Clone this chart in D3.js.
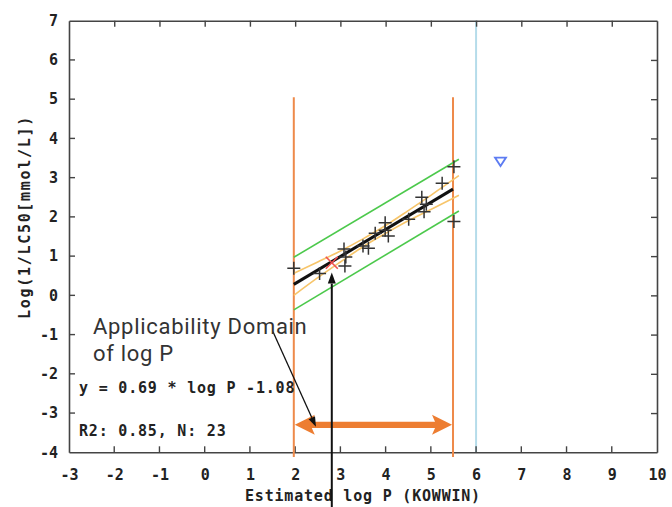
<!DOCTYPE html>
<html>
<head>
<meta charset="utf-8">
<script src="https://cdn.jsdelivr.net/npm/d3@7/dist/d3.min.js"></script>
<style>
  html, body { margin: 0; padding: 0; background: #fff; }
  svg { display: block; }
</style>
</head>
<body>
<svg id="chart" width="672" height="507"></svg>
<script>
// Axis ticks
const xTicks = d3.range(-3, 11);
const yTicks = d3.range(-4, 8);

// Training set: estimated log P (KOWWIN) vs log(1/LC50)
const trainLogP  = [1.97, 2.54, 3.08, 3.12, 3.10, 3.50, 3.62, 3.77, 3.99, 3.99, 4.06, 4.51, 4.80, 4.85, 4.90, 5.25, 5.51, 5.51];
const trainValue = [0.69, 0.56, 1.18, 0.98, 0.75, 1.26, 1.20, 1.58, 1.85, 1.66, 1.51, 1.94, 2.50, 2.13, 2.32, 2.86, 3.28, 1.88];

// Target chemical (red cross) and the out-of-domain chemical (triangle)
const targetLogP = [2.81];
const targetValue = [0.83];
const outsideLogP = [6.54];
const outsideValue = [3.41];

// Regression: y = 0.69 * log P - 1.08
const slope = 0.69;
const intercept = -1.08;
const fitRange = [1.97, 5.49];

// Prediction band (green) and confidence band (yellow)
const predX = [1.97, 5.62];
const predUpper = [0.97, 3.47];
const predLower = [-0.37, 2.15];
const confX = [1.97, 2.5, 3.0, 3.5, 4.0, 4.5, 5.0, 5.62];
const confUpper = [0.56, 0.85, 1.13, 1.44, 1.78, 2.16, 2.55, 3.05];
const confLower = [0.00, 0.45, 0.85, 1.24, 1.58, 1.90, 2.19, 2.55];

// Applicability domain of log P and model boundary
const domainLogP = [1.97, 5.49];
const domainSpan = [-4.12, 5.05];
const boundaryLogP = [6.0];
const domainArrowY = -3.3;

const equationText = "y = 0.69 * log P -1.08";
const statsText = "R2: 0.85, N: 23";

const svg = d3.select("#chart");
const x = d3.scaleLinear().domain([-3, 10]).range([69, 657]);
const y = d3.scaleLinear().domain([-4, 7]).range([452.3, 20.7]);

const mono = "'DejaVu Sans Mono', monospace";
const axisColor = "#444";
const fmt = d => String(d);

// Light-blue boundary line (drawn under the frame)
svg.append("g").selectAll("line").data(boundaryLogP).join("line")
  .attr("x1", d => x(d)).attr("x2", d => x(d))
  .attr("y1", y(7)).attr("y2", y(-4))
  .attr("stroke", "#b5dcea").attr("stroke-width", 2);

// Frame with inward ticks on all four sides
function styleAxis(g) {
  g.selectAll("path.domain").attr("stroke", axisColor).attr("stroke-width", 1.6);
  g.selectAll(".tick line").attr("stroke", axisColor).attr("stroke-width", 1.4);
  g.selectAll(".tick text").attr("fill", "#222").attr("font-family", mono)
    .attr("font-weight", "bold").attr("font-size", 15);
}
const innerTicksX = xTicks.filter(d => d > -3 && d < 10);
const innerTicksY = yTicks.filter(d => d > -4 && d < 7);

const gBottom = svg.append("g").attr("transform", `translate(0,${y(-4)})`)
  .call(d3.axisBottom(x).tickValues(xTicks).tickSizeInner(0).tickSizeOuter(0).tickPadding(17).tickFormat(fmt));
gBottom.selectAll(".tick line").remove();
gBottom.append("g").selectAll("line").data(innerTicksX).join("line")
  .attr("class", "tk").attr("x1", d => x(d)).attr("x2", d => x(d)).attr("y1", 0).attr("y2", -6);
styleAxis(gBottom);
gBottom.selectAll("line.tk").attr("stroke", axisColor).attr("stroke-width", 1.4);

const gLeft = svg.append("g").attr("transform", `translate(${x(-3)},0)`)
  .call(d3.axisLeft(y).tickValues(yTicks).tickSizeInner(0).tickSizeOuter(0).tickPadding(11).tickFormat(fmt));
gLeft.selectAll(".tick line").remove();
gLeft.append("g").selectAll("line").data(innerTicksY).join("line")
  .attr("class", "tk").attr("x1", 0).attr("x2", 6).attr("y1", d => y(d)).attr("y2", d => y(d));
styleAxis(gLeft);
gLeft.selectAll("line.tk").attr("stroke", axisColor).attr("stroke-width", 1.4);

const gTop = svg.append("g").attr("transform", `translate(0,${y(7)})`)
  .call(d3.axisTop(x).tickValues(innerTicksX).tickSizeInner(-6).tickSizeOuter(0).tickFormat(""));
styleAxis(gTop);

const gRight = svg.append("g").attr("transform", `translate(${x(10)},0)`)
  .call(d3.axisRight(y).tickValues(innerTicksY).tickSizeInner(-6).tickSizeOuter(0).tickFormat(""));
styleAxis(gRight);

// Axis titles
svg.append("text")
  .attr("x", (x(-3) + x(10)) / 2).attr("y", 501)
  .attr("text-anchor", "middle")
  .attr("font-family", mono).attr("font-weight", "bold").attr("font-size", 15)
  .attr("letter-spacing", 0.8).attr("fill", "#222")
  .text("Estimated log P (KOWWIN)");

svg.append("text")
  .attr("transform", "translate(30,217) rotate(-90)")
  .attr("text-anchor", "middle")
  .attr("font-family", mono).attr("font-weight", "bold").attr("font-size", 15)
  .attr("letter-spacing", 1.7).attr("fill", "#222")
  .text("Log(1/LC50[mmol/L])");

// Applicability domain verticals
svg.append("g").selectAll("line").data(domainLogP).join("line")
  .attr("x1", d => x(d)).attr("x2", d => x(d))
  .attr("y1", y(domainSpan[1])).attr("y2", y(domainSpan[0]))
  .attr("stroke", "#ee8a4a").attr("stroke-width", 2);

// Bands
const line = d3.line().x(d => x(d[0])).y(d => y(d[1]));
const zip = (a, b) => a.map((v, i) => [v, b[i]]);
[predUpper, predLower].forEach(v => {
  svg.append("path").attr("d", line(zip(predX, v)))
    .attr("fill", "none").attr("stroke", "#4cc94c").attr("stroke-width", 1.6);
});
const smooth = d3.line().curve(d3.curveMonotoneX).x(d => x(d[0])).y(d => y(d[1]));
[confUpper, confLower].forEach(v => {
  svg.append("path").attr("d", smooth(zip(confX, v)))
    .attr("fill", "none").attr("stroke", "#f7c56a").attr("stroke-width", 1.6);
});

// Regression line
svg.append("path")
  .attr("d", line(fitRange.map(v => [v, slope * v + intercept])))
  .attr("fill", "none").attr("stroke", "#111").attr("stroke-width", 3);

// Training points as plus signs
const arm = 6.5;
const plus = svg.append("g").attr("stroke", "#333").attr("stroke-width", 1.5);
trainLogP.forEach((p, i) => {
  const cx = x(p), cy = y(trainValue[i]);
  plus.append("path").attr("d", `M${cx - arm},${cy}H${cx + arm}M${cx},${cy - arm}V${cy + arm}`);
});

// Target chemical
svg.append("g").selectAll("path").data(targetLogP).join("path")
  .attr("d", (p, i) => {
    const cx = x(p), cy = y(targetValue[i]), r = 6;
    return `M${cx - r},${cy - r}L${cx + r},${cy + r}M${cx - r},${cy + r}L${cx + r},${cy - r}`;
  })
  .attr("stroke", "#f05050").attr("stroke-width", 1.6).attr("fill", "none");

// Out-of-domain chemical
svg.append("g").selectAll("path").data(outsideLogP).join("path")
  .attr("d", (p, i) => {
    const cx = x(p), cy = y(outsideValue[i]);
    return `M${cx - 5.5},${cy - 4}L${cx + 5.5},${cy - 4}L${cx},${cy + 4.5}Z`;
  })
  .attr("stroke", "#5d7cf2").attr("stroke-width", 1.8).attr("fill", "none");

// Statistics text
svg.append("text").attr("x", 79).attr("y", 393)
  .attr("font-family", mono).attr("font-weight", "bold").attr("font-size", 15)
  .attr("letter-spacing", 0.8).attr("fill", "#222").text(equationText);
svg.append("text").attr("x", 79).attr("y", 436)
  .attr("font-family", mono).attr("font-weight", "bold").attr("font-size", 15)
  .attr("letter-spacing", 0.8).attr("fill", "#222").text(statsText);

// Orange double arrow spanning the domain
{
  const x0 = x(domainLogP[0]) + 1, x1 = x(domainLogP[1]) - 1, cy = y(domainArrowY);
  const hl = 20, hh = 10, sh = 3.2;
  const pts = [
    [x0, cy], [x0 + hl, cy - hh], [x0 + hl - 3, cy - sh], [x1 - hl + 3, cy - sh], [x1 - hl, cy - hh],
    [x1, cy], [x1 - hl, cy + hh], [x1 - hl + 3, cy + sh], [x0 + hl - 3, cy + sh], [x0 + hl, cy + hh]
  ];
  svg.append("path").attr("d", "M" + pts.join("L") + "Z").attr("fill", "#ed7d31");
}

// Annotation arrows
function arrow(xa, ya, xb, yb, color, w, headLen, headW) {
  const ang = Math.atan2(yb - ya, xb - xa);
  const bx = xb - headLen * Math.cos(ang), by = yb - headLen * Math.sin(ang);
  svg.append("line").attr("x1", xa).attr("y1", ya).attr("x2", bx).attr("y2", by)
    .attr("stroke", color).attr("stroke-width", w);
  const nx = -Math.sin(ang), ny = Math.cos(ang);
  svg.append("path")
    .attr("d", `M${xb},${yb}L${bx + nx * headW},${by + ny * headW}L${bx - nx * headW},${by - ny * headW}Z`)
    .attr("fill", color);
}
const labelAnchor = [1.51, -0.93];
const labelTip = [2.46, -3.35];
arrow(x(labelAnchor[0]), y(labelAnchor[1]), x(labelTip[0]), y(labelTip[1]), "#111", 1.3, 10, 3.5);
arrow(x(targetLogP[0]), 507, x(targetLogP[0]), y(targetValue[0] - 0.25), "#111", 2, 11, 4);

// Annotation label
const noteStyle = t => t.attr("font-family", "Roboto, 'Noto Sans', sans-serif")
  .attr("font-size", 22).attr("letter-spacing", 0.7).attr("fill", "#333");
svg.append("text").call(noteStyle).attr("x", 93).attr("y", 334).text("Applicability Domain");
svg.append("text").call(noteStyle).attr("x", 93).attr("y", 361).text("of log P");
</script>
</body>
</html>
